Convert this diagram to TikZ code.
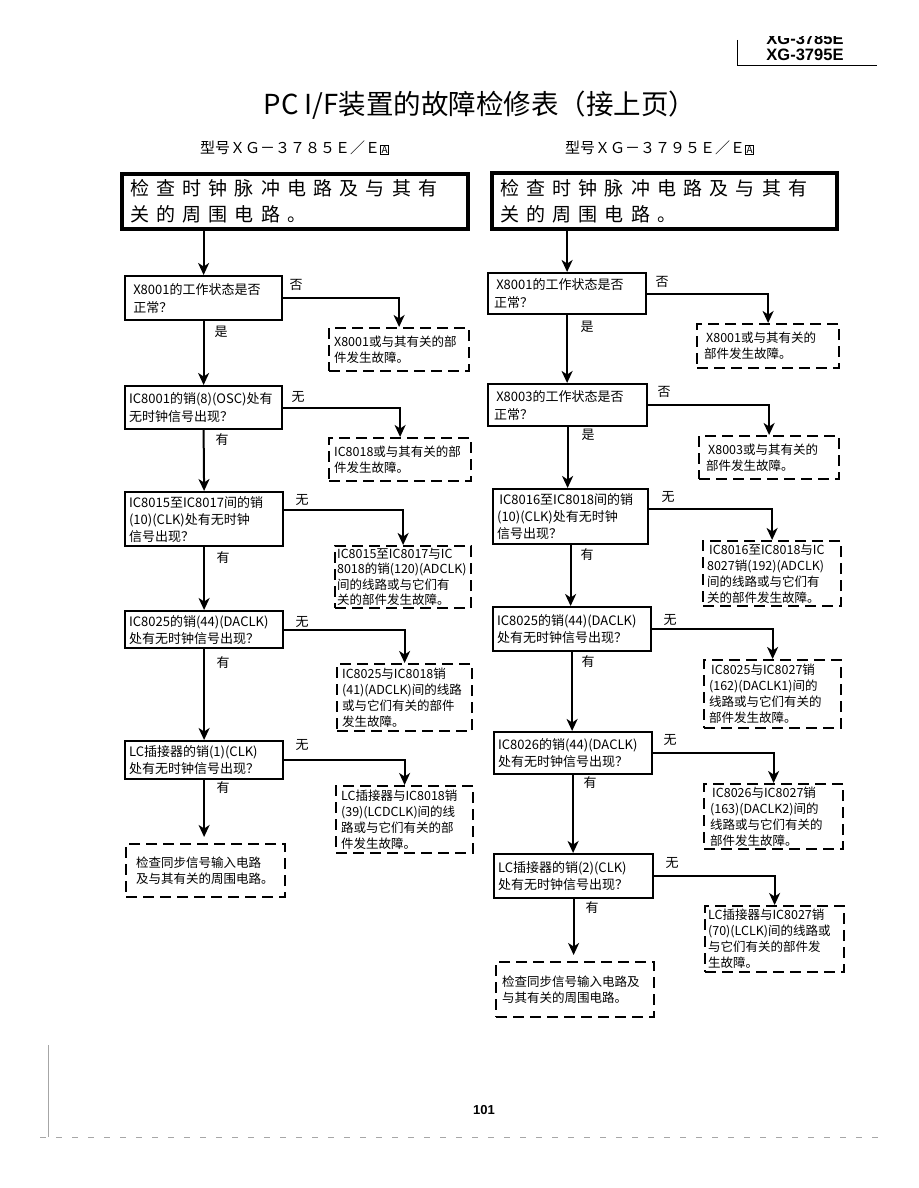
\documentclass[tikz,border=0pt]{standalone}
\usepackage{fontspec}
\setmainfont{Noto Sans CJK SC}
\newfontfamily\cjkwide[LetterSpace=38]{Noto Sans CJK SC}
\newfontfamily\hdrfont{Liberation Sans}
\usetikzlibrary{arrows.meta}
\begin{document}
\begin{tikzpicture}[x=1pt,y=-1pt,
  qbox/.style={draw, line width=2.2pt, anchor=north west, align=left, inner xsep=6pt, inner ysep=0pt, font=\fontsize{13}{18}\selectfont},
  dbox/.style={qbox, dash pattern=on 11pt off 6pt, font=\fontsize{12.5}{16}\selectfont},
  tbox/.style={draw, line width=4pt, anchor=north west, align=left, inner xsep=8pt, inner ysep=0pt, font=\cjkwide\fontsize{19}{26}\selectfont},
  conn/.style={line width=2pt, -{Stealth[length=12pt,width=11pt,inset=3.5pt]}},
  lab/.style={font=\fontsize{13}{15}\selectfont, inner sep=0pt},
  model/.style={font=\fontsize{15}{18}\selectfont, anchor=west, inner sep=0pt}]
\useasboundingbox (0,0) rectangle (918,1188);
\fill[white] (0,0) rectangle (918,1188);

% header
\draw[line width=1pt] (737,40) -- (737,66) -- (877,66);
\begin{scope}
\clip (745,37) rectangle (860,45.5);
\node[font=\hdrfont\bfseries\fontsize{16.5}{18}\selectfont, inner sep=0pt, anchor=base] (hdrA) at (805,44.5) {XG-3785E};
\end{scope}
\node[font=\hdrfont\bfseries\fontsize{16.5}{18}\selectfont, inner sep=0pt, anchor=base] (hdrB) at (805,61) {XG-3795E};

% title
\node[font=\fontsize{27.5}{30}\selectfont, inner sep=0pt] (title) at (480,105) {PC\ I/F装置的故障检修表（接上页）};
\node[model] (modelL) at (200,148) {型号ＸＧ－３７８５Ｅ／Ｅ{\setlength{\fboxsep}{0.6pt}\setlength{\fboxrule}{0.7pt}\fbox{\fontsize{10}{10}\selectfont A}}};
\node[model] (modelR) at (565,148) {型号ＸＧ－３７９５Ｅ／Ｅ{\setlength{\fboxsep}{0.6pt}\setlength{\fboxrule}{0.7pt}\fbox{\fontsize{10}{10}\selectfont A}}};

% ---------------- left column
\node[tbox, minimum width=346pt, minimum height=55pt, text width=330pt] (TL) at (120,172) {检查时钟脉冲电路及与其有\\关的周围电路。};
\node[qbox, minimum width=157pt, minimum height=44pt, text width=145pt] (L1) at (124,275) {\,X8001的工作状态是否\\\,正常？};
\node[dbox, minimum width=140pt, minimum height=43pt, text width=130pt, inner xsep=5pt] (D1) at (328,327) {X8001或与其有关的部\\件发生故障。};
\node[qbox, minimum width=157pt, minimum height=43pt, text width=149pt, inner xsep=4pt] (L2) at (124,385) {IC8001的销(8)(OSC)处有\\无时钟信号出现？};
\node[dbox, minimum width=142pt, minimum height=43pt, text width=132pt, inner xsep=5pt] (D2) at (328,437) {IC8018或与其有关的部\\件发生故障。};
\node[qbox, minimum width=158pt, minimum height=54pt, text width=150pt, inner xsep=4pt, font=\fontsize{13}{17}\selectfont] (L3) at (124,491) {IC8015至IC8017间的销\\(10)(CLK)处有无时钟\\信号出现？};
\node[dbox, minimum width=136pt, minimum height=62pt, text width=132pt, inner xsep=2pt, font=\fontsize{12.5}{15.5}\selectfont] (D3) at (334,545) {IC8015至IC8017与IC\\8018的销(120)(ADCLK)\\间的线路或与它们有\\关的部件发生故障。};
\node[qbox, minimum width=158pt, minimum height=37pt, text width=150pt, inner xsep=4pt, font=\fontsize{13}{17}\selectfont] (L4) at (124,610) {IC8025的销(44)(DACLK)\\处有无时钟信号出现？};
\node[dbox, minimum width=135pt, minimum height=67pt, text width=125pt, inner xsep=5pt] (D4) at (336,663) {IC8025与IC8018销\\(41)(ADCLK)间的线路\\或与它们有关的部件\\发生故障。};
\node[qbox, minimum width=158pt, minimum height=38pt, text width=150pt, inner xsep=4pt, font=\fontsize{13}{17}\selectfont] (L5) at (124,740) {LC插接器的销(1)(CLK)\\处有无时钟信号出现？};
\node[dbox, minimum width=137pt, minimum height=67pt, text width=127pt, inner xsep=5pt] (D5) at (335,785) {LC插接器与IC8018销\\(39)(LCDCLK)间的线\\路或与它们有关的部\\件发生故障。};
\node[dbox, minimum width=159pt, minimum height=53pt, text width=143pt, inner xsep=8pt] (EL) at (125,843) {\,检查同步信号输入电路\\\,及与其有关的周围电路。};

\draw[conn] (TL.south -| L1.north) -- (L1.north);
\draw[conn] (L1.south) -- (L2.north);
\draw[conn] (L2.south) -- (L3.north);
\draw[conn] (L3.south) -- (L4.north);
\draw[conn] (L4.south) -- (L5.north);
\draw[conn] (L5.south) -- ([yshift=6pt]EL.north -| L5.south);
\draw[conn] (L1.east) -| (D1.north);
\draw[conn] (L2.east) -| (D2.north);
\draw[conn] ([yshift=9pt]L3.east) -| (D3.north);
\draw[conn] (L4.east) -| (D4.north);
\draw[conn] (L5.east) -| (D5.north);

\node[lab] (lf1) at (296,285) {否};
\node[lab] (ly1) at (221,332) {是};
\node[lab] (lf2) at (298,397) {无};
\node[lab] (ly2) at (222,440) {有};
\node[lab] (lf3) at (302,500) {无};
\node[lab] (ly3) at (223,558) {有};
\node[lab] (lf4) at (302,622) {无};
\node[lab] (ly4) at (223,663) {有};
\node[lab] (lf5) at (302,745) {无};
\node[lab] (ly5) at (223,788) {有};

% ---------------- right column
\node[tbox, minimum width=345pt, minimum height=56pt, text width=329pt] (TR) at (490,171) {检查时钟脉冲电路及与其有\\关的周围电路。};
\node[qbox, minimum width=158pt, minimum height=41pt, text width=146pt] (R1) at (487,272) {\,X8001的工作状态是否\\正常？};
\node[dbox, minimum width=142pt, minimum height=44pt, text width=128pt, inner xsep=7pt] (DR1) at (696,323) {\,X8001或与其有关的\\部件发生故障。};
\node[qbox, minimum width=159pt, minimum height=42pt, text width=147pt] (R2) at (487,383) {\,X8003的工作状态是否\\正常？};
\node[dbox, minimum width=140pt, minimum height=43pt, text width=126pt, inner xsep=7pt] (DR2) at (698,435) {\,X8003或与其有关的\\部件发生故障。};
\node[qbox, minimum width=155pt, minimum height=55pt, text width=147pt, inner xsep=4pt, font=\fontsize{13}{17}\selectfont] (R3) at (492,488) {\,IC8016至IC8018间的销\\(10)(CLK)处有无时钟\\信号出现？};
\node[dbox, minimum width=138pt, minimum height=65pt, text width=130pt, inner xsep=4pt] (DR3) at (702,540) {\,IC8016至IC8018与IC\\8027销(192)(ADCLK)\\间的线路或与它们有\\关的部件发生故障。};
\node[qbox, minimum width=158pt, minimum height=44pt, text width=150pt, inner xsep=4pt, font=\fontsize{13}{17}\selectfont] (R4) at (492,606) {IC8025的销(44)(DACLK)\\处有无时钟信号出现？};
\node[dbox, minimum width=137pt, minimum height=68pt, text width=127pt, inner xsep=5pt] (DR4) at (703,659) {\,IC8025与IC8027销\\(162)(DACLK1)间的\\线路或与它们有关的\\部件发生故障。};
\node[qbox, minimum width=158pt, minimum height=42pt, text width=150pt, inner xsep=4pt, font=\fontsize{13}{17}\selectfont] (R5) at (493,731) {IC8026的销(44)(DACLK)\\处有无时钟信号出现？};
\node[dbox, minimum width=139pt, minimum height=65pt, text width=127pt] (DR5) at (703,783) {\,IC8026与IC8027销\\(163)(DACLK2)间的\\线路或与它们有关的\\部件发生故障。};
\node[qbox, minimum width=159pt, minimum height=44pt, text width=151pt, inner xsep=4pt, font=\fontsize{13}{17}\selectfont] (R6) at (493,853) {LC插接器的销(2)(CLK)\\处有无时钟信号出现？};
\node[dbox, minimum width=139pt, minimum height=66pt, text width=133pt, inner xsep=3pt] (DR6) at (704,905) {LC插接器与IC8027销\\(70)(LCLK)间的线路或\\与它们有关的部件发\\生故障。};
\node[dbox, minimum width=158pt, minimum height=55pt, text width=146pt, inner xsep=6pt] (ER) at (495,961) {检查同步信号输入电路及\\与其有关的周围电路。};

\draw[conn] (TR.south -| R1.north) -- (R1.north);
\draw[conn] (R1.south) -- (R1.south |- R2.north);
\draw[conn] (R2.south) -- (R2.south |- R3.north);
\draw[conn] (R3.south) -- (R3.south |- R4.north);
\draw[conn] (R4.south) -- (R4.south |- R5.north);
\draw[conn] (R5.south) -- (R5.south |- R6.north);
\draw[conn] (R6.south) -- ([yshift=6pt]R6.south |- ER.north);
\draw[conn] (R1.east) -| (DR1.north);
\draw[conn] (R2.east) -| (DR2.north);
\draw[conn] ([yshift=8pt]R3.east) -| (DR3.north);
\draw[conn] (R4.east) -| (DR4.north);
\draw[conn] (R5.east) -| (DR5.north);
\draw[conn] (R6.east) -| (DR6.north);

\node[lab] (rf1) at (662,282) {否};
\node[lab] (ry1) at (587,327) {是};
\node[lab] (rf2) at (664,392) {否};
\node[lab] (ry2) at (588,435) {是};
\node[lab] (rf3) at (668,497) {无};
\node[lab] (ry3) at (587,555) {有};
\node[lab] (rf4) at (670,620) {无};
\node[lab] (ry4) at (588,662) {有};
\node[lab] (rf5) at (670,740) {无};
\node[lab] (ry5) at (590,783) {有};
\node[lab] (rf6) at (672,863) {无};
\node[lab] (ry6) at (592,908) {有};

% footer
\node[font=\hdrfont\bfseries\fontsize{13}{15}\selectfont, inner sep=0pt] (pageno) at (484,1110) {101};
\draw[black!35, line width=0.6pt] (48,1045) -- (48,1137);
\draw[black!35, line width=0.6pt, dash pattern=on 6pt off 10pt] (40,1137) -- (880,1137);
\end{tikzpicture}
\end{document}
